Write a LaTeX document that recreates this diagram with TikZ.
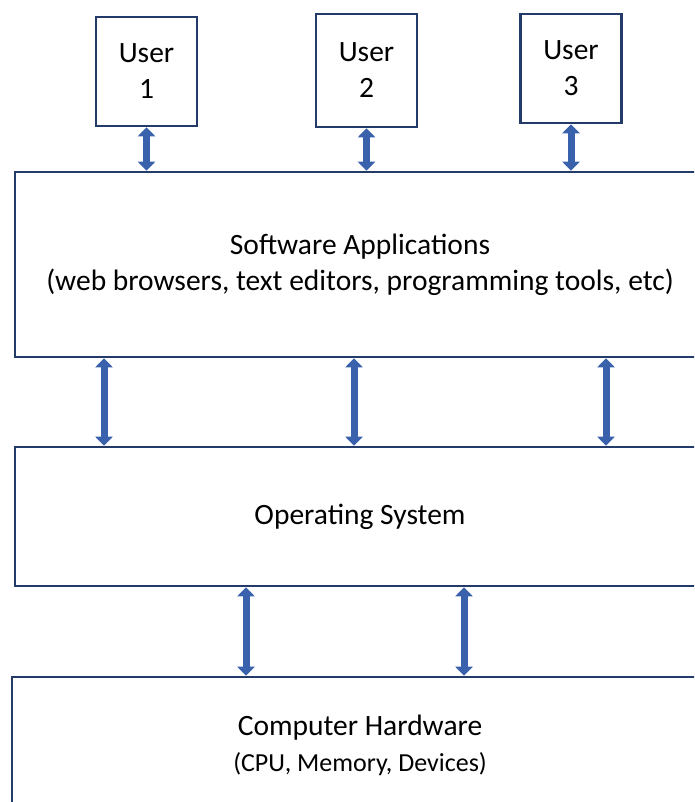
\documentclass[tikz,border=0pt]{standalone}
\usepackage{fontspec}
\setmainfont{Carlito}
\usepackage{tikz}
\usetikzlibrary{arrows.meta}

\definecolor{boxline}{HTML}{243A68}
\definecolor{arrowblue}{HTML}{3A62AC}

\tikzset{
  layer/.style={draw=boxline, line width=2.6pt, fill=white, align=center,
    font=\fontsize{29.5}{36}\selectfont, inner sep=0pt},
  userbox/.style={layer, minimum width=101pt},
  biarrow/.style={arrowblue, line width=7pt,
    {Triangle[width=17pt,length=9pt]}-{Triangle[width=17pt,length=9pt]}}
}

\begin{document}
\begin{tikzpicture}[x=1pt,y=-1pt]

\useasboundingbox (0,0) rectangle (694,802);
\clip (0,0) rectangle (694,802);

% Users
\node[userbox, minimum height=109pt] (user1) at (146.5,71.5) {User\\1};
\node[userbox, minimum height=113pt] (user2) at (366.5,70.5) {User\\2};
\node[userbox, minimum height=109pt] (user3) at (571,68.5) {User\\3};

% Layers
\node[layer, minimum width=690pt, minimum height=185pt] (apps) at (360,264.5)
  {Software Applications\\(web browsers, text editors, programming tools, etc)};
\node[layer, minimum width=690pt, minimum height=139pt] (os) at (360,516.5)
  {Operating System};
\node[layer, minimum width=696pt, minimum height=136pt] (hw) at (360,745)
  {Computer Hardware\\{\fontsize{26}{36}\selectfont (CPU, Memory, Devices)}};

% Users <-> applications
\foreach \u in {user1, user2, user3}
  \draw[biarrow] (\u.south) -- (\u.south |- apps.north);

% Applications <-> operating system
\foreach \x in {104, 354, 606}
  \draw[biarrow] (\x,0 |- apps.south) -- (\x,0 |- os.north);

% Operating system <-> hardware
\foreach \x in {246, 464}
  \draw[biarrow] (\x,0 |- os.south) -- (\x,0 |- hw.north);

\end{tikzpicture}
\end{document}
